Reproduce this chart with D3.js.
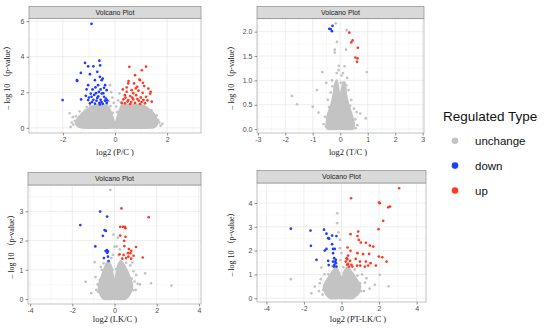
<!doctype html>
<html>
<head>
<meta charset="utf-8">
<style>
  body { margin: 0; background: #fff; }
  svg text { font-family: "Liberation Sans", Arial, sans-serif; }
  .serif { font-family: "Liberation Serif", "Noto Sans CJK SC", serif; }
</style>
<script src="https://cdn.jsdelivr.net/npm/d3@7/dist/d3.min.js"></script>
</head>
<body>
<svg width="550" height="328" class="chart"></svg>
<script>
// ---------- values ----------
var types = ["unchange", "down", "up"];
var stripTitle = "Volcano Plot";
var yTitle = "\u2013 log 10 \uff08p-value\uff09";

// P/C
var pcXTicks = [-2, 0, 2];
var pcYTicks = [0, 2, 4, 6];
var pcDown = [[-0.90,5.85],[-1.15,3.65],[-1.03,3.46],[-0.83,3.46],[-0.60,3.78],[-0.57,3.51],[-1.45,2.64],[-1.31,3.09],[-0.96,3.02],[-0.68,3.15],[-0.58,2.87],[-0.77,2.68],[-0.51,2.68],[-1.03,2.40],[-0.65,2.40],[-0.38,2.40],[-1.09,2.16],[-0.86,2.16],[-0.55,2.16],[-0.32,2.12],[-0.93,1.93],[-0.73,1.95],[-0.51,1.93],[-0.90,1.75],[-0.64,1.77],[-0.42,1.75],[-1.03,1.56],[-0.83,1.58],[-0.71,1.53],[-0.55,1.58],[-0.38,1.53],[-0.96,1.38],[-0.77,1.36],[-0.60,1.40],[-0.47,1.36],[-0.32,1.40],[-2.01,1.56],[-1.30,1.60],[-1.46,2.68],[-0.47,2.77],[-0.80,1.85],[-0.45,1.95],[-0.68,1.68],[-0.35,1.65],[-0.88,1.46],[-0.52,1.45],[-0.62,2.02],[-1.12,1.80],[-0.42,2.25],[-0.75,2.28],[-0.30,1.55],[-0.58,1.32],[-1.00,1.70]];
var pcUp = [[0.55,3.43],[1.19,3.44],[1.03,3.24],[0.77,2.96],[0.96,2.68],[0.51,2.50],[0.73,2.50],[1.07,2.53],[1.28,2.21],[0.30,2.16],[0.45,2.03],[0.64,2.12],[0.90,2.09],[1.06,1.97],[1.35,1.93],[0.38,1.84],[0.58,1.79],[0.81,1.84],[0.99,1.71],[1.19,1.75],[0.32,1.60],[0.51,1.56],[0.70,1.60],[0.91,1.53],[1.09,1.56],[1.41,1.47],[0.38,1.38],[0.58,1.34],[0.77,1.40],[0.96,1.34],[1.15,1.38],[0.26,1.40],[0.85,2.31],[0.45,2.27],[0.94,2.72],[0.52,2.63],[1.37,2.03],[0.66,1.70],[0.48,1.48],[0.86,1.62],[1.25,1.55],[0.70,1.95],[0.40,1.70],[1.02,1.45],[0.62,1.45],[0.80,2.22],[1.12,2.35]];
var pcGrey = [[-1.74,0.82],[-1.62,0.60],[-1.40,0.35],[-1.55,0.40],[-1.25,0.78],[-1.15,0.95],[1.55,0.55],[1.48,0.78],[1.70,0.30],[1.32,1.00],[1.60,0.70],[1.20,1.15],[-0.19,2.40],[-0.15,2.00],[-0.10,1.70],[0.17,1.94],[0.12,1.55],[-0.24,1.50],[0.22,1.45],[-0.05,1.40],[0.05,1.20],[-1.60,0.18],[1.75,0.12],[-0.95,1.25],[0.95,1.28],[-0.30,1.32],
  [-1.50,0.65],[-1.36,0.92],[-1.08,1.16],[-0.18,1.22],[0.26,1.26],[1.40,0.98],[1.66,0.42],[-1.66,0.30],[-0.08,0.85],[0.09,0.88],[1.12,1.22],[-0.62,1.30],[0.60,1.30],[-1.70,0.05],[1.82,0.22]];
var pcCloud = [[-1.25,0.0],[-1.5,0.2],[-1.45,0.5],[-1.3,0.75],[-1.05,1.05],[-0.8,1.25],[-0.45,1.3],[-0.25,1.15],[-0.12,0.75],[-0.03,0.3],[0,0.15],[0.03,0.3],[0.12,0.75],[0.22,1.15],[0.35,1.3],[1.0,1.3],[1.25,1.1],[1.45,0.85],[1.6,0.5],[1.62,0.2],[1.4,0.0],[0,0]];

// T/C
var tcXTicks = [-3, -2, -1, 0, 1, 2, 3];
var tcYTicks = [0, 0.5, 1, 1.5, 2];
var tcDown = [[-0.40,2.06],[-0.28,2.12],[-0.30,2.01],[-0.35,2.05]];
var tcUp = [[0.33,1.98],[0.45,1.82],[0.40,1.78],[0.64,1.67],[0.55,1.47],[0.63,1.45],[0.61,1.38]];
var tcGrey = [[-0.16,2.17],[0.24,2.03],[-0.12,1.79],[-0.20,1.63],[-0.20,1.57],[0.21,1.63],[0.97,1.17],[-0.65,1.17],[-0.06,1.21],[0.16,1.29],[-0.13,1.15],[-0.51,0.95],[-0.85,0.80],[-1.76,0.68],[-1.57,0.51],[-1.00,0.46],[-0.79,0.34],[0.73,0.32],[0.93,0.22],[0.50,0.42],[-0.55,0.25],[0.55,0.20],[-0.35,0.75],[0.30,0.80],[-0.30,1.00],[0.25,1.05],[0.05,1.10],[-0.05,1.30],[0.10,1.15],[-0.45,0.60],[0.40,0.60],[0.60,0.35],[-0.60,0.10],[0.62,0.08],
  [-0.40,0.45],[0.36,0.48],[-0.28,0.88],[0.22,0.90],[0.02,0.95],[-0.52,0.05],[0.56,0.02]];
var tcCloud = [[-0.45,0.0],[-0.5,0.12],[-0.45,0.3],[-0.33,0.5],[-0.25,0.7],[-0.2,0.9],[-0.12,1.0],[-0.04,0.75],[0.03,0.75],[0.1,0.95],[0.17,0.95],[0.22,0.7],[0.3,0.5],[0.42,0.3],[0.5,0.12],[0.45,0.0],[0,0]];

// LK/C
var lkXTicks = [-4, -2, 0, 2, 4];
var lkYTicks = [0, 1, 2, 3];
var lkDown = [[-0.68,2.99],[-0.35,2.82],[-1.62,2.53],[-0.47,2.36],[-0.41,2.33],[-0.55,2.16],[-0.91,1.80],[-0.36,1.67],[-0.42,1.64],[-0.31,1.62],[-0.50,1.40],[-0.31,1.45],[-0.28,1.30],[-0.35,1.58]];
var lkUp = [[0.33,3.10],[1.62,2.80],[0.27,2.47],[0.40,2.47],[0.49,2.47],[0.52,2.42],[0.27,2.17],[0.52,2.13],[0.46,1.99],[1.02,1.78],[0.47,1.81],[0.68,1.71],[0.79,1.65],[0.64,1.57],[0.75,1.57],[0.24,1.53],[0.43,1.51],[0.90,1.48],[1.34,1.42],[0.55,1.40],[0.79,1.38],[0.37,1.38],[0.66,1.45]];
var lkGrey = [[-0.20,3.73],[-1.37,0.59],[2.70,0.46],[1.45,0.88],[1.03,0.82],[1.10,0.52],[-0.86,0.31],[-0.94,1.26],[0.16,2.10],[0.00,1.79],[-0.08,1.51],[-0.60,1.00],[1.00,0.31],[1.73,0.54],[-0.80,0.50],[0.95,0.60],[-0.65,1.10],[0.75,1.15],[0.90,0.95],[-0.90,0.75],[1.20,0.50],[0.20,1.50],[-0.15,1.40],[0.10,1.80],[-0.05,2.20],[0.25,1.70],[-1.10,0.20],[0.85,1.25],
  [-0.78,0.25],[0.88,0.30],[-0.52,1.22],[0.55,1.24],[-0.10,1.00],[0.08,1.02],[-0.70,0.65],[0.82,0.70]];
var lkCloud = [[-0.5,0],[-0.7,0.2],[-0.75,0.45],[-0.6,0.8],[-0.45,1.1],[-0.3,1.3],[-0.15,1.1],[-0.05,0.7],[0,0.55],[0.05,0.7],[0.15,1.1],[0.3,1.3],[0.5,1.1],[0.7,0.8],[0.85,0.45],[0.75,0.2],[0.5,0],[0,0]];

// PT-LK/C
var ptXTicks = [-4, -2, 0, 2, 4];
var ptYTicks = [0, 1, 2, 3, 4];
var ptDown = [[-2.70,2.92],[-1.65,2.84],[-0.93,2.88],[-0.80,2.71],[-1.63,2.20],[-0.66,2.50],[-0.27,2.61],[-1.33,1.61],[-0.80,2.07],[-0.89,2.00],[-0.50,2.27],[-0.45,2.07],[-0.36,2.07],[-0.45,1.89],[-0.71,1.57],[-0.68,1.39],[-0.39,1.68],[-0.34,1.54],[-0.38,1.40],[-0.30,1.47],[-0.41,1.33],[-0.27,1.33],[-0.30,1.61],[-0.45,1.54],[-0.71,2.52],[-0.50,2.63]];
var ptUp = [[0.51,4.20],[2.00,4.03],[2.49,3.82],[1.97,2.90],[2.22,3.25],[0.48,2.69],[0.85,2.61],[0.92,2.45],[1.30,2.33],[1.69,2.17],[0.32,2.13],[0.48,1.99],[0.85,1.89],[1.15,1.85],[1.47,1.86],[1.99,1.75],[2.17,1.72],[0.35,1.79],[0.31,1.64],[0.46,1.57],[0.76,1.65],[0.98,1.54],[1.30,1.54],[1.55,1.47],[1.83,1.37],[2.40,1.54],[0.35,1.44],[0.53,1.40],[0.40,1.33],[0.58,1.33],[0.83,1.37],[1.00,1.37],[1.24,1.33],[1.42,1.37],[0.27,1.68],[0.23,1.54],[0.30,1.40],[3.07,4.62],[2.58,3.85],[2.04,3.99],[1.03,2.34],[1.51,2.21],[0.89,2.80]];
var ptGrey = [[-2.70,0.80],[-0.23,3.57],[-0.23,3.15],[-0.16,2.77],[-0.09,2.45],[-1.07,1.29],[-1.42,0.49],[-1.16,0.63],[1.78,0.56],[1.33,0.84],[2.04,0.98],[0.98,0.63],[-0.09,2.10],[0.00,1.89],[-1.20,0.30],[1.20,0.30],[-0.90,1.00],[1.10,1.00],[0.70,1.20],[-0.50,1.35],[0.10,1.30],[-0.05,1.60],[1.50,0.40],[-1.00,0.15],[0.40,1.25],[2.50,0.50],[-1.60,0.20],
  [-0.98,0.35],[1.05,0.30],[-0.70,1.00],[0.85,0.95],[-0.12,1.05],[0.12,1.08],[-1.10,0.80],[1.25,0.65]];
var ptCloud = [[-0.6,0],[-0.85,0.2],[-0.95,0.5],[-0.75,0.8],[-0.5,1.1],[-0.3,1.3],[-0.15,1.1],[-0.05,0.9],[0.05,0.9],[0.15,1.1],[0.3,1.3],[0.55,1.1],[0.8,0.8],[1.0,0.5],[0.9,0.2],[0.6,0],[0,0]];

// ---------- layout and style ----------
var colors = { unchange: "#c3c3c3", down: "#1f3dff", up: "#ff3b24" };
var r = 1.35;

var panels = [
  { title: "log2 (P/C )", x0: 29, x1: 201, sTop: 6.5, top: 18.5, bottom: 133,
    xDom: [-3.3, 3.3], yDom: [-0.29, 6.15], xTicks: pcXTicks, yTicks: pcYTicks, fmt: String,
    cloud: pcCloud, grey: pcGrey, down: pcDown, up: pcUp,
    yTitleX: 9.5, xTitleY: 154.5, xTitleX: 115 },
  { title: "log2 (T/C )", x0: 257, x1: 424, sTop: 6.5, top: 18.5, bottom: 133,
    xDom: [-3.03, 3.05], yDom: [-0.08, 2.27], xTicks: tcXTicks, yTicks: tcYTicks, fmt: function(d) { return d.toFixed(1); },
    cloud: tcCloud, grey: tcGrey, down: tcDown, up: tcUp,
    yTitleX: 234, xTitleY: 155, xTitleX: 348 },
  { title: "log2 (LK/C )", x0: 28, x1: 201, sTop: 172.5, top: 185, bottom: 304,
    xDom: [-4.1, 4.1], yDom: [-0.17, 3.9], xTicks: lkXTicks, yTicks: lkYTicks, fmt: String,
    cloud: lkCloud, grey: lkGrey, down: lkDown, up: lkUp,
    yTitleX: 14, xTitleY: 322, xTitleX: 115 },
  { title: "log2 (PT-LK/C )", x0: 257, x1: 426, sTop: 170.5, top: 183, bottom: 302,
    xDom: [-4.5, 4.5], yDom: [-0.16, 4.84], xTicks: ptXTicks, yTicks: ptYTicks, fmt: String,
    cloud: ptCloud, grey: ptGrey, down: ptDown, up: ptUp,
    yTitleX: 234, xTitleY: 322, xTitleX: 358 }
];

var svg = d3.select(".chart");

// minor breaks halfway between majors, plus one either side if inside the domain
function minors(ticks, dom) {
  var step = ticks[1] - ticks[0], out = [];
  for (var i = -1; i < ticks.length; i++) {
    var m = ticks[0] + step * (i + 0.5);
    if (m > dom[0] && m < dom[1]) out.push(m);
  }
  return out;
}

panels.forEach(function(p) {
  var x = d3.scaleLinear().domain(p.xDom).range([p.x0, p.x1]);
  var y = d3.scaleLinear().domain(p.yDom).range([p.bottom, p.top]);
  var g = svg.append("g");

  // grid
  g.selectAll(".vminor").data(minors(p.xTicks, p.xDom)).enter().append("line")
    .attr("x1", x).attr("x2", x).attr("y1", p.top).attr("y2", p.bottom)
    .attr("stroke", "#f0f0f0").attr("stroke-width", 0.5);
  g.selectAll(".hminor").data(minors(p.yTicks, p.yDom)).enter().append("line")
    .attr("y1", y).attr("y2", y).attr("x1", p.x0).attr("x2", p.x1)
    .attr("stroke", "#f0f0f0").attr("stroke-width", 0.5);
  g.selectAll(".vmajor").data(p.xTicks).enter().append("line")
    .attr("x1", x).attr("x2", x).attr("y1", p.top).attr("y2", p.bottom)
    .attr("stroke", "#e6e6e6").attr("stroke-width", 0.7);
  g.selectAll(".hmajor").data(p.yTicks).enter().append("line")
    .attr("y1", y).attr("y2", y).attr("x1", p.x0).attr("x2", p.x1)
    .attr("stroke", "#e6e6e6").attr("stroke-width", 0.7);

  // dense core of unchanged points
  var line = d3.line().x(function(d) { return x(d[0]); }).y(function(d) { return y(d[1]); })
    .curve(d3.curveCardinalClosed.tension(0.4));
  g.append("path").attr("d", line(p.cloud))
    .attr("fill", colors.unchange).attr("stroke", colors.unchange)
    .attr("stroke-width", 2).attr("stroke-linejoin", "round");

  [["grey", "unchange"], ["down", "down"], ["up", "up"]].forEach(function(k) {
    g.selectAll(".pt-" + k[0]).data(p[k[0]]).enter().append("circle")
      .attr("cx", function(d) { return x(d[0]); })
      .attr("cy", function(d) { return y(d[1]); })
      .attr("r", r)
      .attr("fill", colors[k[1]]);
  });

  // panel border and strip
  g.append("rect").attr("x", p.x0).attr("y", p.top).attr("width", p.x1 - p.x0).attr("height", p.bottom - p.top)
    .attr("fill", "none").attr("stroke", "#a8a8a8").attr("stroke-width", 0.7);
  g.append("rect").attr("x", p.x0).attr("y", p.sTop).attr("width", p.x1 - p.x0).attr("height", p.top - p.sTop)
    .attr("fill", "#d9d9d9").attr("stroke", "#8c8c8c").attr("stroke-width", 0.7);
  g.append("text").attr("x", (p.x0 + p.x1) / 2).attr("y", (p.sTop + p.top) / 2 + 2.5)
    .attr("text-anchor", "middle").attr("font-size", "7px").attr("fill", "#1a1a1a")
    .text(stripTitle);

  // axes
  var xa = g.append("g").attr("transform", "translate(0," + p.bottom + ")")
    .call(d3.axisBottom(x).tickValues(p.xTicks).tickFormat(String).tickSize(2.5).tickPadding(2));
  var ya = g.append("g").attr("transform", "translate(" + p.x0 + ",0)")
    .call(d3.axisLeft(y).tickValues(p.yTicks).tickFormat(p.fmt).tickSize(2.5).tickPadding(2));
  [xa, ya].forEach(function(a) {
    a.select(".domain").remove();
    a.selectAll(".tick line").attr("stroke", "#444").attr("stroke-width", 0.6);
    a.selectAll(".tick text").attr("fill", "#4d4d4d").attr("font-size", "7px")
      .attr("font-family", "Liberation Sans, Arial, sans-serif");
  });

  // axis titles
  g.append("text").attr("class", "serif")
    .attr("x", p.xTitleX).attr("y", p.xTitleY)
    .attr("text-anchor", "middle").attr("font-size", "8.5px").attr("fill", "#222")
    .text(p.title);
  g.append("text").attr("class", "serif")
    .attr("transform", "translate(" + p.yTitleX + "," + (p.top + p.bottom) / 2 + ") rotate(-90)")
    .attr("text-anchor", "middle").attr("font-size", "8px").attr("fill", "#222")
    .text(yTitle);
});

// legend
var leg = svg.append("g");
leg.append("text").attr("x", 443).attr("y", 120.5)
  .attr("font-size", "13.5px").attr("fill", "#111").text("Regulated Type");
var ly = d3.scalePoint().domain(types).range([140.7, 190.5]);
leg.selectAll("circle").data(types).enter().append("circle")
  .attr("cx", 455).attr("cy", function(d) { return ly(d); }).attr("r", 3.3)
  .attr("fill", function(d) { return colors[d]; });
leg.selectAll(".lab").data(types).enter().append("text")
  .attr("x", 475).attr("y", function(d) { return ly(d) + 4; })
  .attr("font-size", "11.5px").attr("fill", "#111").text(function(d) { return d; });
</script>
</body>
</html>
